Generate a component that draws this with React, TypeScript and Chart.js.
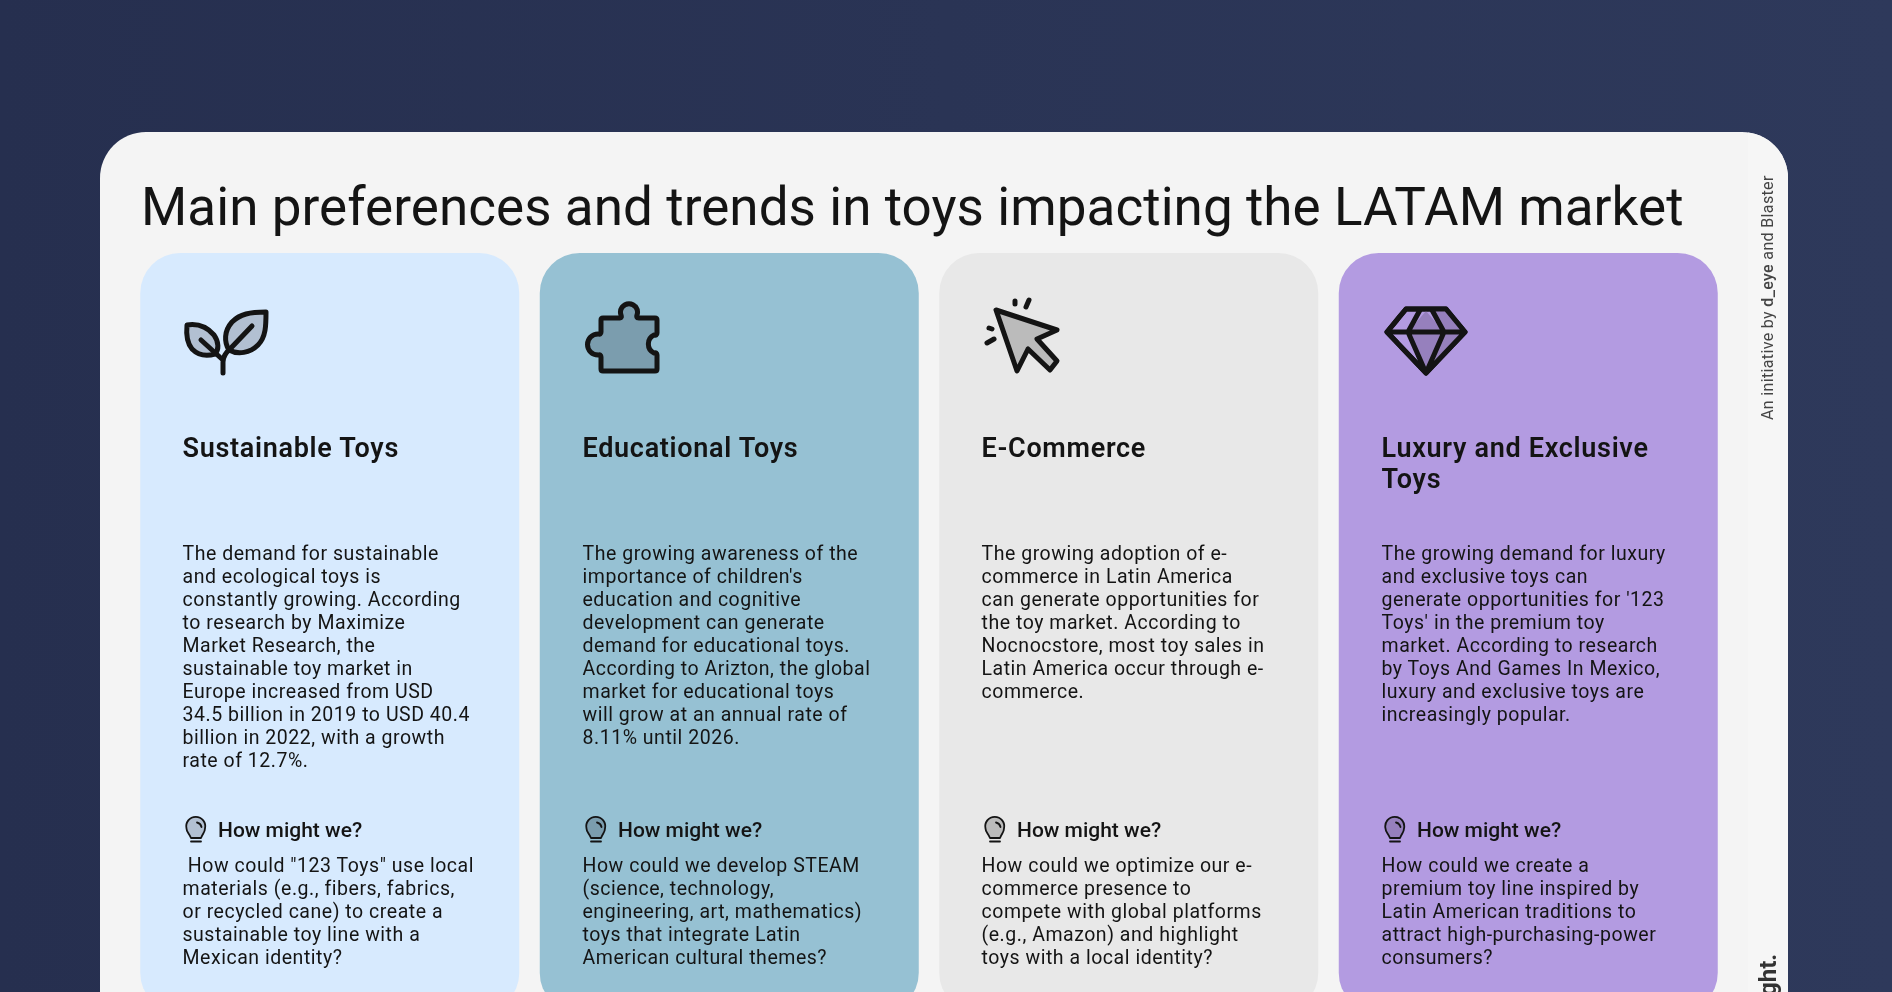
import React, { useEffect, useRef } from "react";
import { Chart, registerables } from "chart.js";

Chart.register(...registerables);

const chartTitle = "Main preferences and trends in toys impacting the LATAM market";
const categories = ["Sustainable Toys", "Educational Toys", "E-Commerce", "Luxury and Exclusive Toys"];
const cardValues = [1, 1, 1, 1];
const cardColors = ["#d7eafe", "#96c1d3", "#e8e8e8", "#b39be1"];
const iconFills = ["#b2c0d2", "#7b9dae", "#bbbbbb", "#9680bd"];
const cardHeadings = [["Sustainable Toys"], ["Educational Toys"], ["E-Commerce"], ["Luxury and Exclusive", "Toys"]];
const sustainableText = [
  "The demand for sustainable", "and ecological toys is", "constantly growing. According", "to research by Maximize",
  "Market Research, the", "sustainable toy market in", "Europe increased from USD", "34.5 billion in 2019 to USD 40.4",
  "billion in 2022, with a growth", "rate of 12.7%.",
];
const educationalText = [
  "The growing awareness of the", "importance of children's", "education and cognitive", "development can generate",
  "demand for educational toys.", "According to Arizton, the global", "market for educational toys",
  "will grow at an annual rate of", "8.11% until 2026.",
];
const ecommerceText = [
  "The growing adoption of e-", "commerce in Latin America", "can generate opportunities for", "the toy market. According to",
  "Nocnocstore, most toy sales in", "Latin America occur through e-", "commerce.",
];
const luxuryText = [
  "The growing demand for luxury", "and exclusive toys can", "generate opportunities for '123", "Toys' in the premium toy",
  "market. According to research", "by Toys And Games In Mexico,", "luxury and exclusive toys are", "increasingly popular.",
];
const sustainableQuestion = [" How could \"123 Toys\" use local", "materials (e.g., fibers, fabrics,", "or recycled cane) to create a", "sustainable toy line with a", "Mexican identity?"];
const educationalQuestion = ["How could we develop STEAM", "(science, technology,", "engineering, art, mathematics)", "toys that integrate Latin", "American cultural themes?"];
const ecommerceQuestion = ["How could we optimize our e-", "commerce presence to", "compete with global platforms", "(e.g., Amazon) and highlight", "toys with a local identity?"];
const luxuryQuestion = ["How could we create a", "premium toy line inspired by", "Latin American traditions to", "attract high-purchasing-power", "consumers?"];
const bodies = [sustainableText, educationalText, ecommerceText, luxuryText];
const questions = [sustainableQuestion, educationalQuestion, ecommerceQuestion, luxuryQuestion];
const promptLabel = "How might we?";
const creditText = "An initiative by ";
const creditBold = "d_eye";
const creditRest = " and Blaster";
const sideBold = "ght.";

const FONT = "Roboto, 'Noto Sans', sans-serif";
const INK = "#141414";
const cardLefts = [140, 540, 939, 1339];

const Ink = { stroke: INK, strokeWidth: 5, strokeLinejoin: "round", strokeLinecap: "round" } as const;

function Leaf({ fill }: { fill: string }) {
  return (
    <g {...Ink}>
      <path fill={fill} d="M266 312 C250 312 240 314 232 322 C224 331 224 342 229 350 C238 355 250 353 258 345 C266 337 266 325 266 312 Z" />
      <path fill={fill} d="M187 325 C200 323 208 328 214 335 C219 342 219 350 215 354 C205 357 197 354 192 349 C187 343 186 335 187 325 Z" />
      <path fill="none" d="M252 326 L230 349 Q223 355 223 362 L223 373 M201 340 L223 360" />
    </g>
  );
}
function Puzzle({ fill }: { fill: string }) {
  return (
    <g {...Ink}>
      <path fill={fill} d="M603 318 L620 318 Q622 318 621 315 A8.5 8.5 0 1 1 637 315 Q636 318 639 318 L655 318 Q657 318 657 320 L657 333 Q657 336 654 335 A10 10 0 0 0 654 353 Q657 352 657 355 L657 369 Q657 371 655 371 L603 371 Q601 371 601 369 L601 357 Q601 354 598 355 A10.5 10.5 0 0 1 598 334 Q601 335 601 332 L601 320 Q601 318 603 318 Z" />
    </g>
  );
}
function Cursor({ fill }: { fill: string }) {
  return (
    <g {...Ink}>
      <path fill={fill} d="M996 310 L1057 330 L1037 339 L1057 361 L1050 370 L1028 349 L1017 371 Z" />
      <path fill="none" d="M1015 301 L1015 304 M1029 300 L1026 307 M989 328 L992 329 M994 339 L987 343" />
    </g>
  );
}
function Diamond({ fill, base }: { fill: string; base: string }) {
  return (
    <g {...Ink}>
      <path fill={base} d="M1406 309 L1446 309 L1465 332 L1426 373 L1387 332 Z" />
      <path fill={fill} stroke="none" d="M1426 311 L1408 332 L1426 373 L1465 332 L1446 309 L1432 309 L1444 332 L1408 332 Z" />
      <path fill={fill} stroke="none" d="M1426 311 L1444 332 L1408 332 Z" />
      <path fill="none" d="M1406 309 L1446 309 L1465 332 L1426 373 L1387 332 Z M1387 332 L1465 332 M1420 310 L1408 332 L1426 373 L1444 332 L1432 310" />
    </g>
  );
}
function Bulb({ x, fill }: { x: number; fill: string }) {
  return (
    <g transform={`translate(${x} 2)`} stroke={INK} strokeWidth={1.8} strokeLinecap="round" strokeLinejoin="round">
      <path fill={fill} d="M191 836 C189 831 186.5 830 186.5 826.5 A9.5 9.5 0 1 1 205 826.5 C205 830 203 831 201 836 Z" />
      <path fill="none" d="M191 839.5 L201 839.5 M197 820.5 A6 6 0 0 1 201.5 825" />
    </g>
  );
}

function TextBlock({ lines, left, top, size, lh, weight = 400, spacing = 0 }: { lines: string[]; left: number; top: number; size: number; lh: number; weight?: number; spacing?: number }) {
  return (
    <div style={{ position: "absolute", left, top, fontFamily: FONT, fontSize: size, lineHeight: `${lh}px`, fontWeight: weight, letterSpacing: spacing, color: INK, whiteSpace: "pre" }}>
      {lines.join("\n")}
    </div>
  );
}

export default function App() {
  const ref = useRef<HTMLCanvasElement>(null);
  useEffect(() => {
    const chart = new Chart(ref.current!, {
      type: "bar",
      data: {
        labels: categories,
        datasets: [{
          data: cardValues,
          backgroundColor: cardColors,
          borderRadius: 40,
          borderSkipped: false,
          borderWidth: 0,
          barPercentage: 379 / 399.5,
          categoryPercentage: 1,
        }],
      },
      options: {
        animation: false,
        responsive: false,
        devicePixelRatio: 1,
        layout: { padding: 0 },
        plugins: { legend: { display: false }, tooltip: { enabled: false }, title: { display: false } },
        scales: { x: { display: false }, y: { display: false, min: 0, max: 1 } },
      },
    });
    return () => chart.destroy();
  }, []);

  return (
    <div style={{ position: "fixed", inset: 0, overflow: "hidden", background: "linear-gradient(90deg,#262f4f,#2e395b)" }}>
      <div style={{ position: "absolute", left: 100, top: 132, width: 1688, height: 1000, borderRadius: 46, background: "#f4f4f4", overflow: "hidden" }}>
        <div style={{ position: "absolute", left: 1648, top: 0, width: 40, height: 1000, background: "#f6f6f6" }} />
      </div>
      <div style={{ position: "absolute", left: 130, top: 253, width: 1598, height: 760 }}>
        <canvas ref={ref} width={1598} height={760} style={{ display: "block" }} />
      </div>
      <div style={{ position: "absolute", left: 141, top: 176, fontFamily: FONT, fontSize: 53, lineHeight: "62px", color: INK, whiteSpace: "pre", letterSpacing: 0.06 }}>{chartTitle}</div>
      {cardLefts.map((l, i) => (
        <React.Fragment key={i}>
          <TextBlock lines={cardHeadings[i]} left={l + 42.5} top={433} size={27} lh={31} weight={600} spacing={0.7} />
          <TextBlock lines={bodies[i]} left={l + 42.5} top={541.5} size={19.5} lh={23} spacing={0.53} />
          <div style={{ position: "absolute", left: l + 78, top: 818, fontFamily: FONT, fontSize: 21, lineHeight: "24px", fontWeight: 500, color: INK, whiteSpace: "pre" }}>{promptLabel}</div>
          <TextBlock lines={questions[i]} left={l + 42.5} top={854} size={19.5} lh={23} spacing={0.53} />
        </React.Fragment>
      ))}
      <svg width={1892} height={992} style={{ position: "absolute", left: 0, top: 0 }}>
        <Leaf fill={iconFills[0]} />
        <Puzzle fill={iconFills[1]} />
        <Cursor fill={iconFills[2]} />
        <Diamond fill={iconFills[3]} base={cardColors[3]} />
        {cardLefts.map((l, i) => <Bulb key={i} x={l - 140} fill={iconFills[i]} />)}
      </svg>
      <div style={{ position: "absolute", left: 1758, top: 420, transformOrigin: "0 0", transform: "rotate(-90deg)", fontFamily: FONT, fontSize: 16, lineHeight: "20px", color: "#444", letterSpacing: 0.35, whiteSpace: "pre" }}>
        {creditText}<span style={{ fontWeight: 500 }}>{creditBold}</span>{creditRest}
      </div>
      <div style={{ position: "absolute", left: 1754, top: 996, transformOrigin: "0 0", transform: "rotate(-90deg)", fontFamily: FONT, fontSize: 24, lineHeight: "28px", fontWeight: 700, color: "#333", whiteSpace: "pre" }}>{sideBold}</div>
    </div>
  );
}
